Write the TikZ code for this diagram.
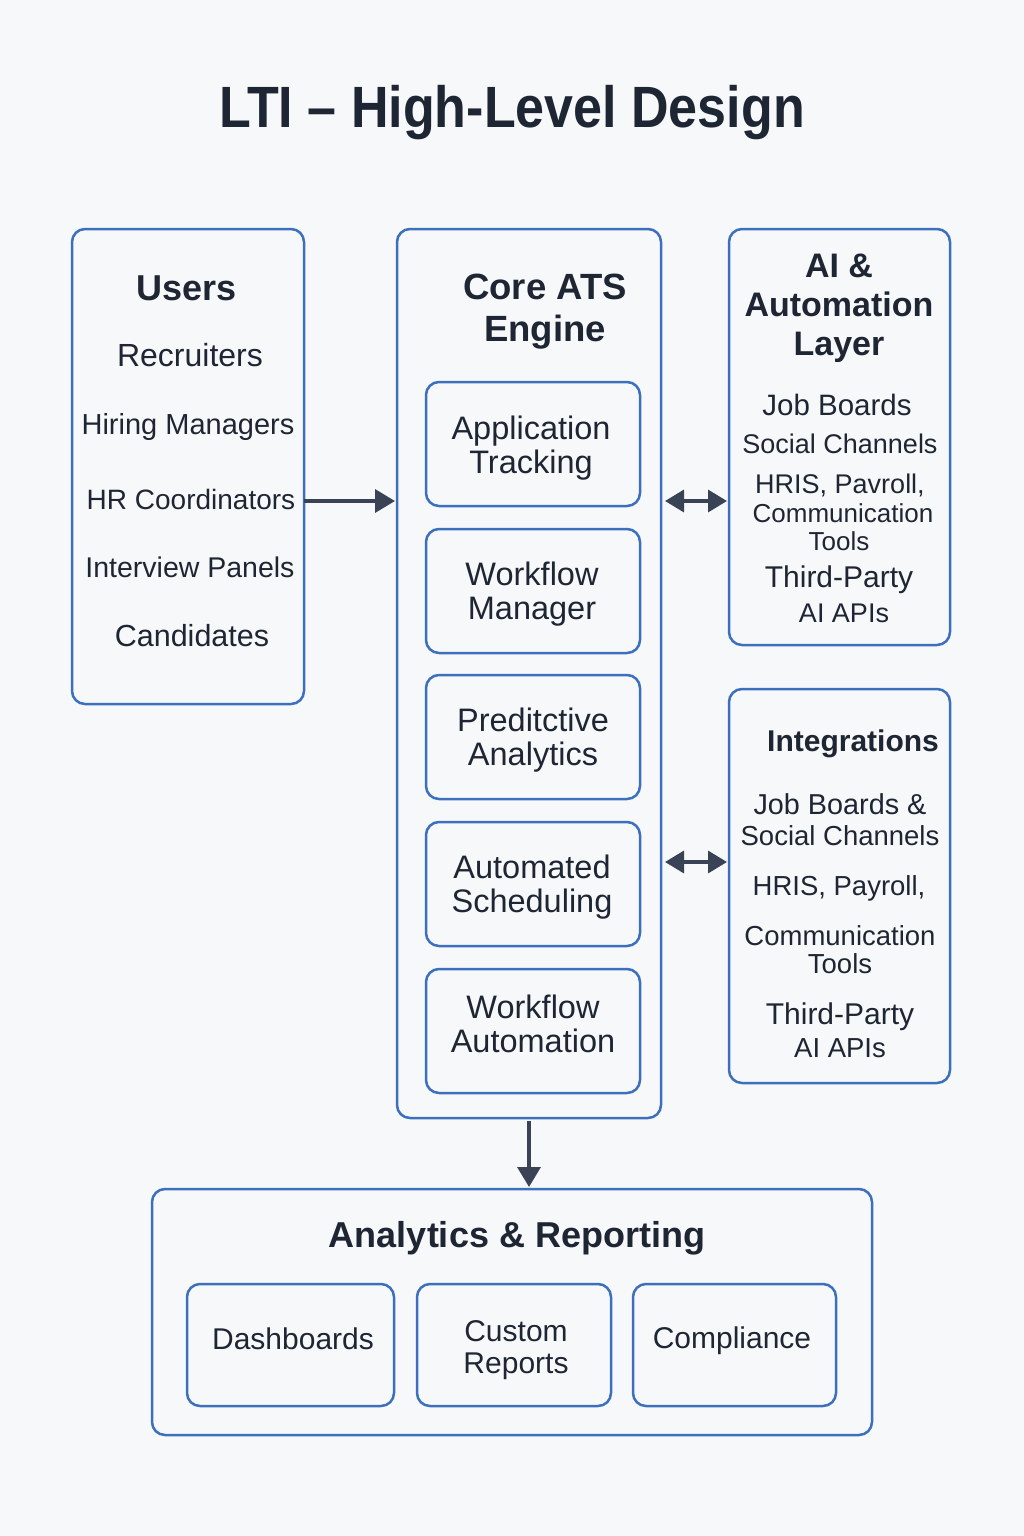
\documentclass[tikz,border=0pt]{standalone}
\usepackage{fontspec}
\setmainfont{Liberation Sans}
\usetikzlibrary{arrows.meta}
\definecolor{bg}{HTML}{F7F8FA}
\definecolor{bd}{HTML}{3C70BE}
\definecolor{tx}{HTML}{1E2533}
\definecolor{ar}{HTML}{3A4356}
\newcommand{\fsz}[2]{\fontsize{#1}{#2}\selectfont}
\begin{document}
\begin{tikzpicture}[x=1pt,y=-1pt,
  box/.style={draw=bd, line width=2.5pt, rounded corners=13pt, inner sep=0pt, outer sep=0pt},
  inbox/.style={box, minimum width=214pt, minimum height=124pt},
  botbox/.style={box, minimum height=122pt},
  intext/.style={text=tx, font=\fsz{32.5}{34}, align=center, inner sep=0pt},
  bottext/.style={text=tx, font=\fsz{30}{32}, align=center, inner sep=0pt},
  head/.style={text=tx, font=\bfseries\fsz{33}{39}, align=center, inner sep=0pt},
  item/.style={text=tx, font=\fsz{29}{33}, align=center, inner sep=0pt},
  sitem/.style={text=tx, font=\fsz{27}{30}, align=center, inner sep=0pt},
  arr/.style={draw=ar, line width=3.5pt, -{Triangle[length=20pt,width=23pt]}},
  dbl/.style={draw=ar, line width=3.5pt, {Triangle[length=19pt,width=22pt]}-{Triangle[length=19pt,width=22pt]}}
]
\useasboundingbox[fill=bg] (0,0) rectangle (1024,1536);

% title
\node[text=tx, font=\bfseries\fsz{52}{56}, inner sep=0pt] (title) at (512,113) {\scalebox{1}[1.12]{LTI – High-Level Design}};

% Users
\node[box, minimum width=232pt, minimum height=475pt] (users) at (188,466.5) {};
\node[head, font=\bfseries\fsz{36}{39}] (usersh) at (187,288) {Users};
\node[item, font=\fsz{32}{33}] (u1) at (190,355) {Recruiters};
\node[item] (u2) at (188,427) {Hiring Managers};
\node[item, font=\fsz{28}{33}] (u3) at (191,499) {HR Coordinators};
\node[item, font=\fsz{28.5}{33}] (u4) at (190,567) {Interview Panels};
\node[item, font=\fsz{30.5}{33}] (u5) at (192,636) {Candidates};

% Core ATS Engine
\node[box, minimum width=264pt, minimum height=889pt] (core) at (529,673.5) {};
\node[head, font=\bfseries\fsz{36.5}{42}] (coreh) at (545,312) {Core ATS\\Engine};
\node[inbox] (c1) at (533,444) {};
\node[inbox] (c2) at (533,591) {};
\node[inbox] (c3) at (533,737) {};
\node[inbox] (c4) at (533,884) {};
\node[inbox] (c5) at (533,1031) {};
\node[intext] (c1t) at (531,448) {Application\\Tracking};
\node[intext] (c2t) at (532,594.5) {Workflow\\Manager};
\node[intext] (c3t) at (533,740) {Preditctive\\Analytics};
\node[intext] (c4t) at (532,887) {Automated\\Scheduling};
\node[intext] (c5t) at (533,1023.5) {Workflow\\Automation};

% AI & Automation Layer
\node[box, minimum width=221pt, minimum height=416pt] (ai) at (839.5,437) {};
\node[head, font=\bfseries\fsz{34}{39}] (aih) at (839,308) {AI \&\\Automation\\Layer};
\node[sitem, font=\fsz{29.5}{30}] (a1) at (837,405) {Job Boards};
\node[sitem] (a2) at (840,444) {Social Channels};
\node[sitem] (a3) at (840,485) {HRIS, Pavroll,};
\node[sitem, font=\fsz{26}{29}] (a4) at (843,513) {Communication};
\node[sitem, font=\fsz{26}{29}] (a5) at (839,541) {Tools};
\node[sitem, font=\fsz{30}{30}] (a6) at (839,580) {Third-Party};
\node[sitem] (a7) at (844,613) {AI APIs};

% Integrations
\node[box, minimum width=221pt, minimum height=394pt] (integ) at (839.5,886) {};
\node[head, font=\bfseries\fsz{30}{39}] (integh) at (853,744) {Integrations};
\node[sitem, font=\fsz{27.5}{31}] (i1) at (840,820) {\fontsize{28.8}{31}\selectfont Job Boards \&\\Social Channels};
\node[sitem, font=\fsz{27.5}{31}] (i2) at (839,888) {HRIS, Payroll,};
\node[sitem, font=\fsz{27.5}{28}] (i3) at (840,950) {Communication\\Tools};
\node[sitem, font=\fsz{30}{33}] (i4) at (840,1030) {Third-Party\\\fontsize{27.5}{33}\selectfont AI APIs};

% Analytics & Reporting
\node[box, minimum width=720pt, minimum height=246pt] (anl) at (512,1312) {};
\node[head, font=\bfseries\fsz{36}{39}] (anlh) at (517,1238) {Analytics \& Reporting};
\node[botbox, minimum width=207pt] (b1) at (290.5,1345) {};
\node[botbox, minimum width=194pt] (b2) at (514,1345) {};
\node[botbox, minimum width=203pt] (b3) at (734.5,1345) {};
\node[bottext] (b1t) at (293,1339) {Dashboards};
\node[bottext] (b2t) at (516,1350) {Custom\\Reports};
\node[bottext] (b3t) at (732,1341) {Compliance};

% connectors
\coordinate (j0) at (306,501);
\coordinate (j1) at (663,501);
\coordinate (j2) at (663,862);
\draw[arr, shorten >=2pt] (users.east |- j0) -- (core.west |- j0);
\draw[dbl, shorten <=2pt, shorten >=2pt] (j1) -- (ai.west |- j1);
\draw[dbl, shorten <=2pt, shorten >=2pt] (j2) -- (integ.west |- j2);
\draw[arr, shorten <=3pt, shorten >=2pt] (core.south) -- (anl.north -| core.south);
\end{tikzpicture}
\end{document}
